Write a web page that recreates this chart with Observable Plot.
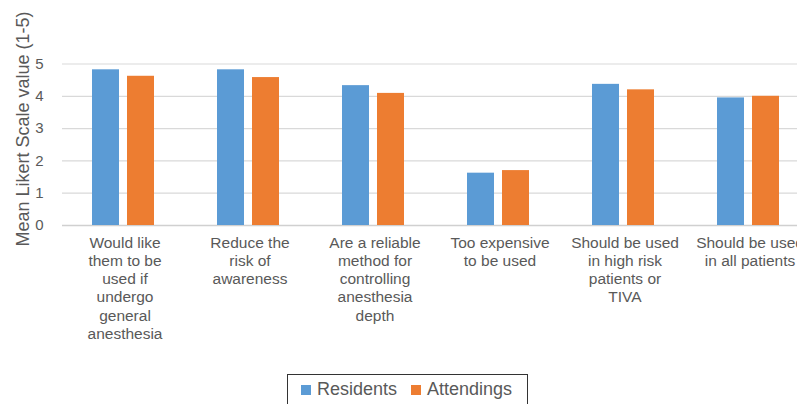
<!DOCTYPE html>
<html>
<head>
<meta charset="utf-8">
<script src="https://cdn.jsdelivr.net/npm/d3@7"></script>
<script src="https://cdn.jsdelivr.net/npm/@observablehq/plot@0.6"></script>
<style>
  html, body { margin: 0; padding: 0; background: #fff; }
  #wrap { position: relative; width: 797px; height: 404px; overflow: hidden; font-family: "Liberation Sans", Arial, sans-serif; color: #595959; }
  #chart { position: absolute; left: 0; top: 0; width: 820px; }
  #chart svg { max-width: none !important; }
  #legend { position: absolute; left: 287px; top: 374px; width: 241px; height: 40px; border: 1.3px solid #333; box-sizing: border-box; display: flex; align-items: flex-start; padding-left: 13px; padding-top: 4px; font-size: 18px; color: #595959; }
  .item { display: flex; align-items: center; margin-right: 14px; }
  .sw { width: 10px; height: 10px; margin-right: 6px; }
</style>
</head>
<body>
<div id="wrap">
  <div id="chart"></div>
  <div id="legend"></div>
</div>
<script>
const categories = [
  "Would like them to be used if undergo general anesthesia",
  "Reduce the risk of awareness",
  "Are a reliable method for controlling anesthesia depth",
  "Too expensive to be used",
  "Should be used in high risk patients or TIVA",
  "Should be used in all patients"
];
const tickLabels = [
  "Would like\nthem to be\nused if\nundergo\ngeneral\nanesthesia",
  "Reduce the\nrisk of\nawareness",
  "Are a reliable\nmethod for\ncontrolling\nanesthesia\ndepth",
  "Too expensive\nto be used",
  "Should be used\nin high risk\npatients or\nTIVA",
  "Should be used\nin all patients"
];
const series = ["Residents", "Attendings"];
const residents = [4.82, 4.82, 4.33, 1.62, 4.37, 3.95];
const attendings = [4.62, 4.58, 4.09, 1.70, 4.20, 4.00];
const colors = ["#5b9bd5", "#ed7d31"];
const yTicks = [0, 1, 2, 3, 4, 5];
const yLabel = "Mean Likert Scale value (1-5)";

const data = [];
categories.forEach((c, i) => {
  data.push({category: c, series: series[0], value: residents[i]});
  data.push({category: c, series: series[1], value: attendings[i]});
});

const chart = Plot.plot({
  width: 820,
  height: 370,
  marginLeft: 62,
  marginRight: 8,
  marginTop: 63.5,
  marginBottom: 145,
  style: {fontFamily: "Liberation Sans, Arial, sans-serif", fontSize: "15px", color: "#595959", background: "transparent", overflow: "visible", maxWidth: "none"},
  fx: {domain: categories, padding: 0, label: null},
  x: {domain: series, paddingInner: 0.22, paddingOuter: 0.865, align: 0.482, axis: null},
  y: {domain: [0, 5], label: null},
  color: {domain: series, range: colors},
  marks: [
    Plot.gridY(yTicks, {stroke: "#d9d9d9", strokeOpacity: 1, strokeWidth: 1.2}),
    Plot.ruleY([0], {stroke: "#d0d0d0", strokeWidth: 1.6}),
    Plot.barY(data, {fx: "category", x: "series", y: "value", fill: "series"}),
    Plot.axisY({ticks: yTicks, tickFormat: "d", tickSize: 0, tickPadding: 19, fontSize: 15, label: null}),
    Plot.axisFx({anchor: "bottom", tickSize: 0, tickPadding: 9, fontSize: 15.5, lineHeight: 1.18, label: null,
      tickFormat: d => tickLabels[categories.indexOf(d)]})
  ]
});
chart.style.maxWidth = "none";
document.getElementById("chart").appendChild(chart);

d3.select(chart).append("text")
  .attr("transform", "translate(29,129) rotate(-90)")
  .attr("text-anchor", "middle")
  .attr("fill", "#595959")
  .style("font-size", "18px")
  .text(yLabel);

const legend = d3.select("#legend");
series.forEach((s, i) => {
  const it = legend.append("div").attr("class", "item");
  it.append("div").attr("class", "sw").style("background", colors[i]);
  it.append("span").text(s);
});
</script>
</body>
</html>
